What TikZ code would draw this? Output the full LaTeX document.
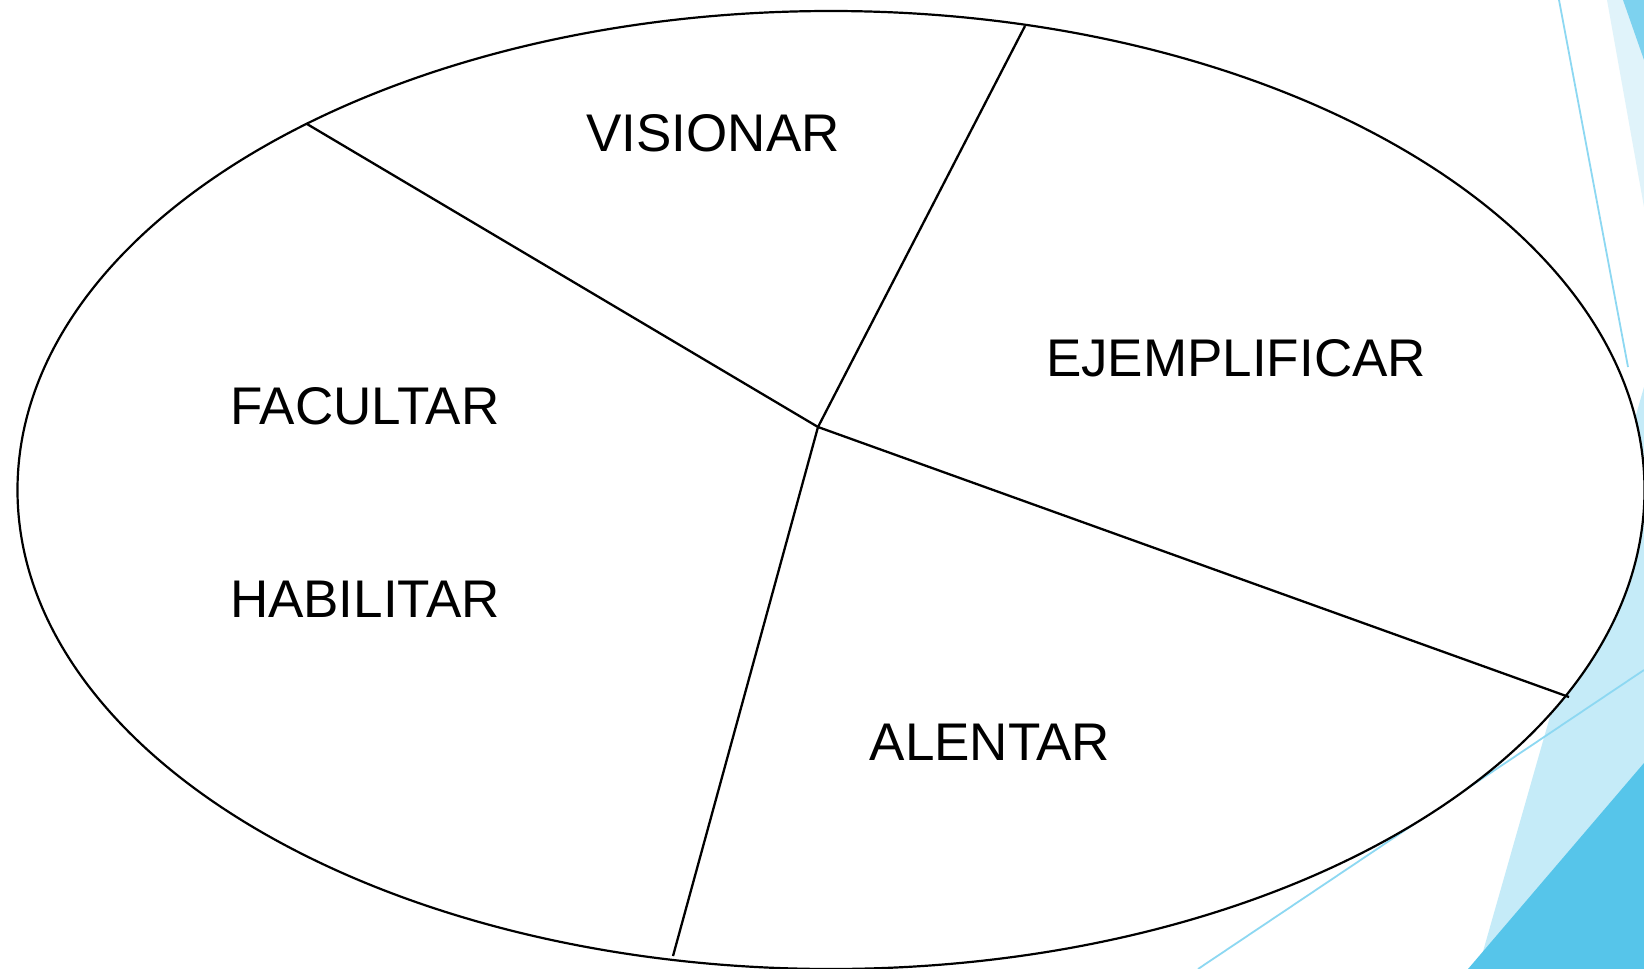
\documentclass[tikz,border=0pt]{standalone}
\usepackage{fontspec}
\setmainfont{Liberation Sans}
\begin{document}
\begin{tikzpicture}[x=1pt,y=-1pt,
  divider/.style={draw=black,line width=2.3pt},
  thinblue/.style={draw=thinln,line width=1.8pt},
  lbl/.style={font=\fontsize{53}{60}\selectfont,inner sep=0pt,text=black}]
\definecolor{palebg}{HTML}{E0F3FA}
\definecolor{midbg}{HTML}{C5EBF8}
\definecolor{darkbg}{HTML}{56C5EA}
\definecolor{topdark}{HTML}{7DD2EF}
\definecolor{thinln}{HTML}{8DD8F2}
\useasboundingbox (0,0) rectangle (1644,969);
\fill[white] (0,0) rectangle (1644,969);
% background decorations
\fill[palebg] (1607,0) -- (1644,0) -- (1644,207) -- cycle;
\fill[topdark] (1623,0) -- (1644,0) -- (1644,60) -- cycle;
\fill[midbg] (1644,387) -- (1644,969) -- (1478,969) -- cycle;
\fill[darkbg] (1644,763) -- (1644,969) -- (1468,969) -- cycle;
\coordinate (t1) at (1559,0);
\coordinate (t2) at (1628,367);
\coordinate (b1) at (1198,969);
\coordinate (b2) at (1644,670);
\draw[thinblue] (t1) -- (t2);
\draw[thinblue] (b1) -- (b2);
% ellipse
\coordinate (o) at (831,490);
\draw[fill=white,line width=2.2pt] (o) ellipse [x radius=813.5, y radius=479];
\coordinate (c) at (818,427);
\coordinate (p1) at (307,124);
\coordinate (p2) at (1025,26);
\coordinate (p3) at (1569,697);
\coordinate (p4) at (673,956);
\draw[divider] (p1) -- (c);
\draw[divider] (p2) -- (c);
\draw[divider] (p3) -- (c);
\draw[divider] (p4) -- (c);
\node[lbl] (vis) at (713,133) {VISIONAR};
\node[lbl] (eje) at (1236,358) {EJEMPLIFICAR};
\node[lbl] (fac) at (365,406) {FACULTAR};
\node[lbl] (hab) at (365,599) {HABILITAR};
\node[lbl] (ale) at (990,742) {ALENTAR};
\end{tikzpicture}
\end{document}
